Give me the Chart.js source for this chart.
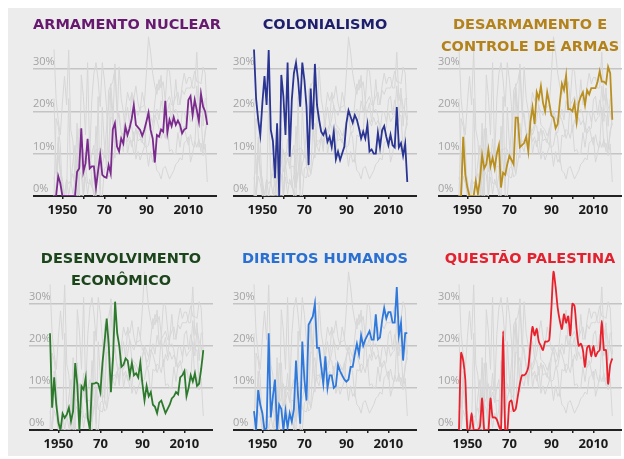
<!DOCTYPE html>
<html>
<head>
<meta charset="utf-8">
<script src="https://cdn.jsdelivr.net/npm/chart.js@4"></script>
<style>
  body { margin: 0; background: #fff; width: 624px; height: 459px; overflow: hidden; }
  #bg { position: absolute; left: 8px; top: 8px; width: 613px; height: 448px; background: #ececec; }
  canvas { position: absolute; }
  .title {
    position: absolute; width: 184px; text-align: center; white-space: pre;
    font: bold 14.5px "DejaVu Sans", sans-serif; line-height: 22px; z-index: 2;
  }
</style>
</head>
<body>
<div id="bg"></div>
<script>
// UN resolutions share by topic, 1946-2019
const years = [
  1946,1947,1948,1949,1950,1951,1952,1953,1954,1955,
  1956,1957,1958,1959,1960,1961,1962,1963,1964,1965,
  1966,1967,1968,1969,1970,1971,1972,1973,1974,1975,
  1976,1977,1978,1979,1980,1981,1982,1983,1984,1985,
  1986,1987,1988,1989,1990,1991,1992,1993,1994,1995,
  1996,1997,1998,1999,2000,2001,2002,2003,2004,2005,
  2006,2007,2008,2009,2010,2011,2012,2013,2014,2015,
  2016,2017,2018,2019
];

const nuclear = [
  0, 0, 4.7, 3, 0, 0, 0, 0, 0, 0,
  0, 5.7, 6.5, 16, 5.7, 7.7, 13.5, 6.5, 7, 7,
  2, 6, 9.7, 5, 4.5, 4.3, 7.3, 5.3, 15.7, 17.2,
  11.7, 10.5, 13.6, 12.4, 16.4, 14.4, 16, 18.2, 21.5, 16.8,
  16.2, 15.6, 14.2, 15.6, 17.6, 19.7, 15.6, 13.6, 7.9, 14.4,
  14, 15.7, 15.2, 22.5, 15, 18, 16.5, 18.6, 16.8, 17.8,
  16.8, 14.8, 15.7, 16, 22.7, 23.6, 19.1, 22.7, 20.3, 17.6,
  24.1, 21.1, 19.9, 16.8
];

const colonial = [
  34.6, 23, 18, 14.4, 22, 28.3, 21.5, 34.5, 15.6, 13,
  4.2, 17.2, 0, 28.6, 23.5, 14.4, 31.5, 9.3, 22.7, 29,
  31.5, 27.4, 21.1, 31.5, 27.4, 21.1, 7.3, 25.4, 15.7, 31.2,
  21.5, 18, 15.2, 14.4, 15.6, 12.8, 14, 11.6, 15.2, 8.7,
  10.5, 8.5, 10.1, 11.6, 17.2, 20.2, 18.7, 17.3, 19.1, 18,
  16, 13.6, 15.2, 13.6, 16.8, 10.5, 11, 10, 10, 15,
  11.5, 15.5, 16.5, 14, 12, 14.5, 12, 11.5, 21, 11.5,
  12.5, 9.5, 12.3, 3.3
];

const disarm = [
  0, 0, 14, 5, 2, 0, 0, 0, 3.5, 0.5,
  4, 9.7, 6.5, 7.5, 11, 7, 9, 6.5, 10, 12,
  2, 5.5, 5, 7.5, 9.5, 8.5, 7.5, 18.5, 18.5, 11.5,
  12, 12.5, 14, 10.5, 17.5, 21, 17, 24.5, 23, 26,
  22, 20, 24.5, 22, 19, 18.5, 16, 17, 22, 26.5,
  25, 28.5, 20.5, 20.5, 20, 22, 17.5, 22, 23.5, 24.5,
  21.5, 25, 24, 25.5, 25.5, 25.5, 27, 29.5, 27, 27,
  26.5, 30.5, 29, 18
];

const development = [
  23, 5.3, 12.5, 6, 1.7, 0, 3.9, 2.9, 3.7, 5.3,
  2.1, 4.5, 15.9, 10.8, 0, 10.4, 9.6, 12.4, 2.9, 0,
  11, 11, 11.3, 11, 9, 16, 21, 26.5, 20, 9,
  17, 30.5, 23, 20, 15, 15.5, 17, 16.5, 13, 16,
  13, 13.5, 12.5, 16, 11, 7, 10.5, 8, 9, 6,
  5.5, 4, 6.5, 7, 5.5, 4, 5, 6, 7.5, 8,
  9, 8.5, 12.5, 13, 14, 8, 10, 13, 11.5, 13.5,
  10.5, 11, 14.5, 19
];

const humanRights = [
  4.5, 0, 9.5, 6, 4, 0, 0.5, 23, 3, 8,
  12, 0, 6, 5, 0, 4.5, 0.5, 4, 2, 5,
  16.5, 8, 1.5, 21, 12, 7, 25, 26, 27, 30,
  19.5, 19.5, 15, 11, 17.5, 10, 13, 13, 10, 10.5,
  15.5, 14, 13, 12, 11.5, 12, 15, 15, 18, 20.5,
  18, 22.5, 20, 21.5, 22.5, 23.5, 21.5, 21.5, 27.5, 21.5,
  22, 26, 29, 26.5, 28, 28, 25.5, 25.5, 34, 22.5,
  25.5, 16.5, 23, 23
];

const palestine = [
  0, 18.3, 16.5, 12, 0, 0, 4, 0, 0, 0,
  1, 7.5, 0, 0, 0, 7.5, 3, 3, 2.5, 1,
  0, 23.5, 0, 0, 6.5, 7, 4.5, 5, 8, 11,
  13, 13, 13.5, 15, 20, 24.5, 22.5, 24, 21, 20,
  19, 21, 21, 21.5, 29, 37.6, 34, 29, 26, 24,
  27.5, 25.5, 27, 22.5, 30, 29.5, 24, 20, 20.5, 19,
  15, 19.5, 20, 17.5, 20, 17.5, 18.5, 19, 26, 19,
  19, 11, 15.5, 17
];

const xTicks = [1950, 1960, 1970, 1980, 1990, 2000, 2010];
const xTickLabels = { 1950: '1950', 1970: '70', 1990: '90', 2010: '2010' };
const yTicks = [0, 10, 20, 30];

const series = [
  { name: 'ARMAMENTO NUCLEAR', values: nuclear, color: '#7b2a8e', titleColor: '#66196f' },
  { name: 'COLONIALISMO', values: colonial, color: '#2a3492', titleColor: '#1e1f6c' },
  { name: 'DESARMAMENTO E\nCONTROLE DE ARMAS', values: disarm, color: '#b98f1f', titleColor: '#b3821a' },
  { name: 'DESENVOLVIMENTO\nECONÔMICO', values: development, color: '#2d7a2d', titleColor: '#1c451c' },
  { name: 'DIREITOS HUMANOS', values: humanRights, color: '#2f78dc', titleColor: '#2a70d2' },
  { name: 'QUESTÃO PALESTINA', values: palestine, color: '#e8212c', titleColor: '#e3222f' }
];

// layout
const panelLeft = [33, 233, 438, 29, 233, 438];
const rows = [
  { zero: 196, px: 4.233, titleTop: 13 },
  { zero: 430, px: 4.2, titleTop: 247 }
];
const Y_MAX = 38.5;
const PLOT_W = 184;
const PX_YEAR = 2.1;
const X_MIN = 1936;
const AXIS_H = 26;

Chart.defaults.font.family = '"Open Sans", sans-serif';

const toPoints = vals => vals.map((v, i) => ({ x: years[i], y: v }));

series.forEach((s, i) => {
  const row = rows[Math.floor(i / 3)];
  const plotH = Math.round(Y_MAX * row.px);

  const title = document.createElement('div');
  title.className = 'title';
  title.textContent = s.name;
  title.style.left = panelLeft[i] + 'px';
  title.style.top = row.titleTop + 'px';
  title.style.color = s.titleColor;
  document.body.appendChild(title);

  const canvas = document.createElement('canvas');
  canvas.width = PLOT_W;
  canvas.height = plotH + AXIS_H;
  canvas.style.left = panelLeft[i] + 'px';
  canvas.style.top = (row.zero - plotH) + 'px';
  document.body.appendChild(canvas);

  // highlighted series first so it is drawn on top
  const datasets = [{
    data: toPoints(s.values),
    borderColor: s.color,
    borderWidth: 1.8,
    tension: i === 5 ? 0.25 : 0
  }];
  series.forEach((o, j) => {
    if (j !== i) {
      datasets.push({ data: toPoints(o.values), borderColor: '#d6d6d6', borderWidth: 1, tension: 0 });
    }
  });

  new Chart(canvas.getContext('2d'), {
    type: 'line',
    data: { datasets: datasets },
    options: {
      responsive: false,
      animation: false,
      devicePixelRatio: 1,
      layout: { padding: 0 },
      elements: { point: { radius: 0 } },
      plugins: { legend: { display: false }, tooltip: { enabled: false } },
      scales: {
        x: {
          type: 'linear',
          min: X_MIN,
          max: X_MIN + PLOT_W / PX_YEAR,
          afterBuildTicks: scale => { scale.ticks = xTicks.map(v => ({ value: v })); },
          afterFit: scale => { scale.height = AXIS_H; scale.paddingLeft = 0; scale.paddingRight = 0; },
          grid: { drawOnChartArea: false, drawTicks: true, tickLength: 3, color: '#222', lineWidth: 1.5 },
          border: { display: true, color: '#222', width: 2 },
          ticks: {
            autoSkip: false,
            maxRotation: 0,
            padding: 3,
            color: '#1a1a1a',
            font: { size: 13, weight: 'bold' },
            callback: v => xTickLabels[v] || ''
          }
        },
        y: {
          min: 0,
          max: Y_MAX,
          afterBuildTicks: scale => { scale.ticks = yTicks.map(v => ({ value: v })); },
          afterFit: scale => { scale.width = 0; scale.paddingTop = 0; scale.paddingBottom = 0; },
          grid: { drawTicks: false, color: '#c4c4c4', lineWidth: 1.5 },
          border: { display: false },
          ticks: {
            mirror: true,
            padding: 0,
            labelOffset: -7,
            color: '#a3a3a3',
            font: { size: 11 },
            callback: v => v + '%'
          }
        }
      }
    }
  });
});
</script>
</body>
</html>
